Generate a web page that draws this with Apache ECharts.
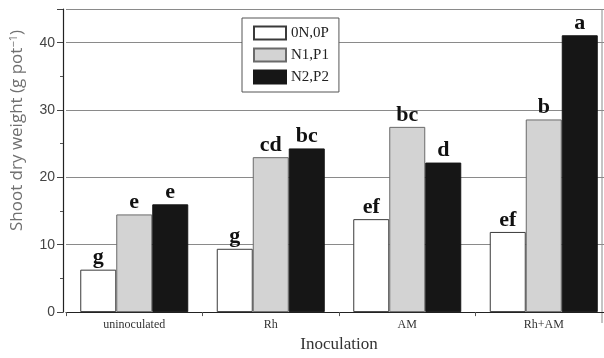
<!DOCTYPE html>
<html>
<head>
<meta charset="utf-8">
<script src="https://cdn.jsdelivr.net/npm/echarts@6/dist/echarts.min.js"></script>
<style>
  html, body { margin: 0; padding: 0; background: #fff; overflow: hidden; }
  /* the plot area runs slightly past the right edge of the window */
  #chart { width: 612px; height: 358px; }
</style>
</head>
<body>
<div id="chart"></div>
<script>
// Inoculation treatments on the x axis
const categories = ['uninoculated', 'Rh', 'AM', 'Rh+AM'];

// Fertiliser levels (legend entries)
const seriesNames = ['0N,0P', 'N1,P1', 'N2,P2'];

// Shoot dry weight (g pot^-1)
const valuesN0P0 = [6.3, 9.4, 13.8, 11.9];
const valuesN1P1 = [14.5, 23.0, 27.5, 28.6];
const valuesN2P2 = [16.0, 24.3, 22.2, 41.1];

// Mean-separation letters above each bar
const lettersN0P0 = ['g', 'g', 'ef', 'ef'];
const lettersN1P1 = ['e', 'cd', 'bc', 'b'];
const lettersN2P2 = ['e', 'bc', 'd', 'a'];

// Y axis
const yMin = 0;
const yMax = 45;
const yInterval = 10;

const serif = '"Liberation Serif", "Times New Roman", serif';
const sans = '"Liberation Sans", Arial, sans-serif';

const styles = [
  { color: '#ffffff', borderColor: '#3a3a3a', borderWidth: 1 },
  { color: '#d3d3d3', borderColor: '#6a6a6a', borderWidth: 1 },
  { color: '#161616', borderColor: '#161616', borderWidth: 1 }
];
const values = [valuesN0P0, valuesN1P1, valuesN2P2];
const letters = [lettersN0P0, lettersN1P1, lettersN2P2];

const chart = echarts.init(document.getElementById('chart'), null, { renderer: 'canvas' });

chart.setOption({
  animation: false,
  backgroundColor: '#ffffff',
  grid: { left: 66, right: 0, top: 9, bottom: 35, containLabel: false },
  legend: {
    orient: 'vertical',
    left: 242,
    top: 18,
    data: seriesNames,
    icon: 'rect',
    itemWidth: 32,
    itemHeight: 13,
    itemGap: 6,
    padding: [7, 10, 7, 11],
    borderColor: '#555',
    borderWidth: 1,
    backgroundColor: '#ffffff',
    textStyle: { fontFamily: serif, fontSize: 15, color: '#222', lineHeight: 16 }
  },
  xAxis: {
    type: 'category',
    data: categories,
    name: 'Inoculation',
    nameLocation: 'middle',
    nameGap: 17,
    nameTextStyle: { fontFamily: serif, fontSize: 17, color: '#333' },
    axisLine: { lineStyle: { color: '#222', width: 1.2 } },
    axisTick: { show: true, length: 4, inside: false, lineStyle: { color: '#555' } },
    axisLabel: { fontFamily: serif, fontSize: 12, color: '#333', margin: 7 },
    splitLine: { show: false }
  },
  yAxis: {
    type: 'value',
    min: yMin,
    max: yMax,
    interval: yInterval,
    offset: 3,
    name: 'Shoot dry weight (g pot{sup|−1})',
    nameLocation: 'middle',
    nameGap: 36,
    nameRotate: 90,
    nameTextStyle: {
      fontFamily: '"Open Sans", "Noto Sans", sans-serif',
      fontSize: 17,
      color: '#707070',
      padding: [0, 0, 0, 60],
      rich: {
        sup: { fontFamily: '"Open Sans", "Noto Sans", sans-serif', fontSize: 11, color: '#707070', verticalAlign: 'top', padding: [0, 0, 8, 0] }
      }
    },
    axisLine: { show: true, lineStyle: { color: '#222', width: 1.2 } },
    axisTick: { show: true, length: 6, lineStyle: { color: '#444' } },
    minorTick: { show: true, splitNumber: 2, length: 3, lineStyle: { color: '#555' } },
    axisLabel: {
      fontFamily: sans,
      fontSize: 14,
      color: '#444',
      margin: 8,
      formatter: v => (v % yInterval === 0 ? String(v) : '')
    },
    splitLine: { show: true, lineStyle: { color: '#8a8a8a', width: 1 } }
  },
  graphic: [
    {
      type: 'line',
      shape: { x1: 602, y1: 9, x2: 602, y2: 323 },
      style: { stroke: '#8a8a8a', lineWidth: 1 },
      silent: true
    }
  ],
  series: seriesNames.map((name, i) => ({
    name: name,
    type: 'bar',
    barWidth: 36,
    barGap: '0%',
    data: values[i],
    itemStyle: styles[i],
    label: {
      show: true,
      position: 'top',
      distance: 1,
      fontFamily: serif,
      fontWeight: 'bold',
      fontSize: 22,
      color: '#111',
      formatter: p => letters[i][p.dataIndex]
    }
  }))
});
</script>
</body>
</html>
